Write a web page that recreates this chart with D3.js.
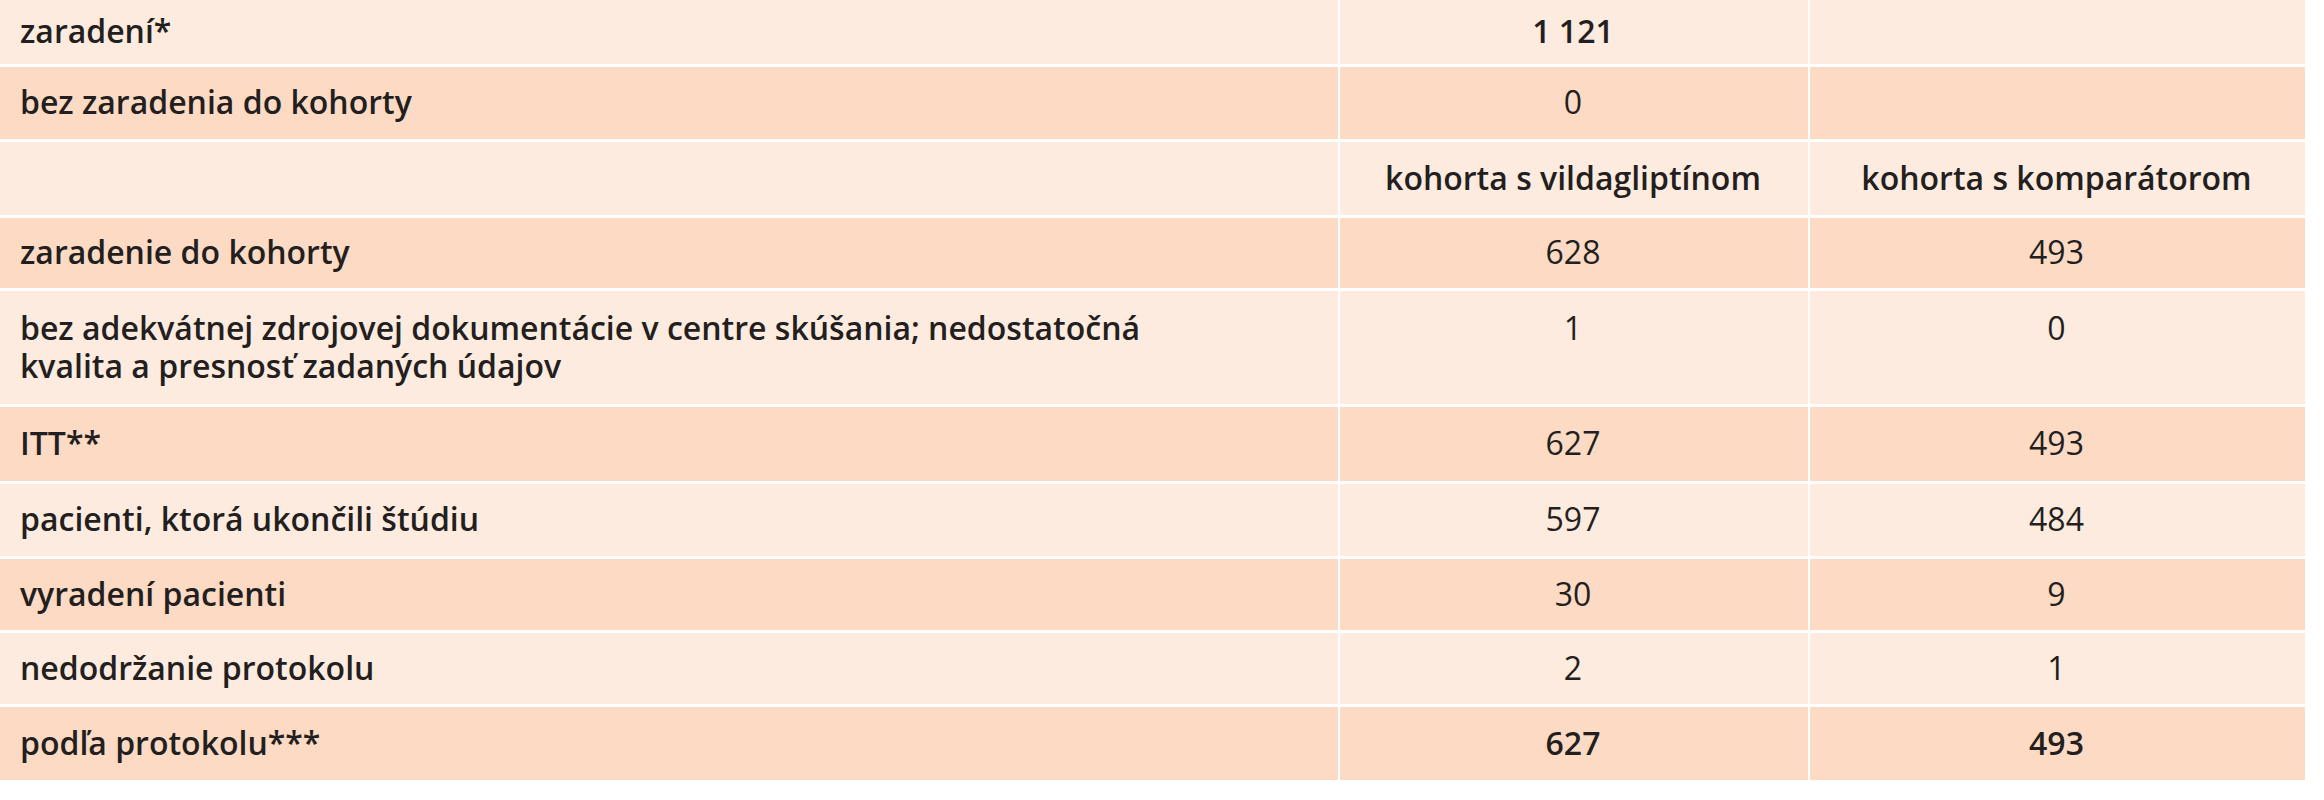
<!DOCTYPE html>
<html><head><meta charset="utf-8">
<script src="https://cdn.jsdelivr.net/npm/d3@7"></script>
<style>body{margin:0;background:#fff}</style>
</head><body><div id="tbl"></div>
<script>
// table content
const labels = [["zaradení*"], ["bez zaradenia do kohorty"], [""], ["zaradenie do kohorty"],
  ["bez adekvátnej zdrojovej dokumentácie v centre skúšania; nedostatočná", "kvalita a presnosť zadaných údajov"],
  ["ITT**"], ["pacienti, ktorá ukončili štúdiu"], ["vyradení pacienti"], ["nedodržanie protokolu"], ["podľa protokolu***"]];
const col2 = ["1 121", "0", "kohorta s vildagliptínom", "628", "1", "627", "597", "30", "2", "627"];
const col3 = ["", "", "kohorta s komparátorom", "493", "0", "493", "484", "9", "1", "493"];
const boldVals = [0, 9];

const width = 2324, height = 800;
const rowH = [67, 75, 76, 73, 116, 77, 75, 74, 74, 76];
const colX = [0, 1338, 1808, 2305];

const svg = d3.select("#tbl").append("svg")
  .attr("width", width).attr("height", height);

let tops = [0];
rowH.forEach(h => tops.push(tops[tops.length - 1] + h));

const rows = svg.selectAll("g.row").data(labels).enter().append("g")
  .attr("transform", (d, i) => `translate(0,${tops[i]})`);

// cells
[0, 1, 2].forEach(c => {
  rows.append("rect")
    .attr("x", colX[c] + (c ? 2 : 0)).attr("y", 0)
    .attr("width", colX[c + 1] - colX[c] - (c ? 2 : 0))
    .attr("height", (d, i) => rowH[i] - 3)
    .attr("fill", (d, i) => i % 2 ? "#fcdac4" : "#fdebdf");
});

const font = "'Open Sans', sans-serif";
const fs = 32;
rows.each(function(d, i) {
  const g = d3.select(this);
  const h = rowH[i] - 3;
  const y0 = d.length > 1 ? h / 2 - 8 : h / 2 + 11;
  const t = g.append("text").attr("font-family", font)
    .attr("font-size", fs).attr("font-weight", 600).attr("fill", "#231f20");
  d.forEach((s, k) => t.append("tspan").attr("x", 20).attr("y", y0 + k * 38).text(s));
  [col2, col3].forEach((col, c) => {
    g.append("text").attr("x", (colX[c + 1] + colX[c + 2]) / 2)
      .attr("y", y0)
      .attr("text-anchor", "middle").attr("font-family", font).attr("font-size", fs)
      .attr("font-weight", boldVals.includes(i) || i === 2 ? 600 : 400)
      .attr("fill", "#231f20").text(col[i]);
  });
});
</script></body></html>
